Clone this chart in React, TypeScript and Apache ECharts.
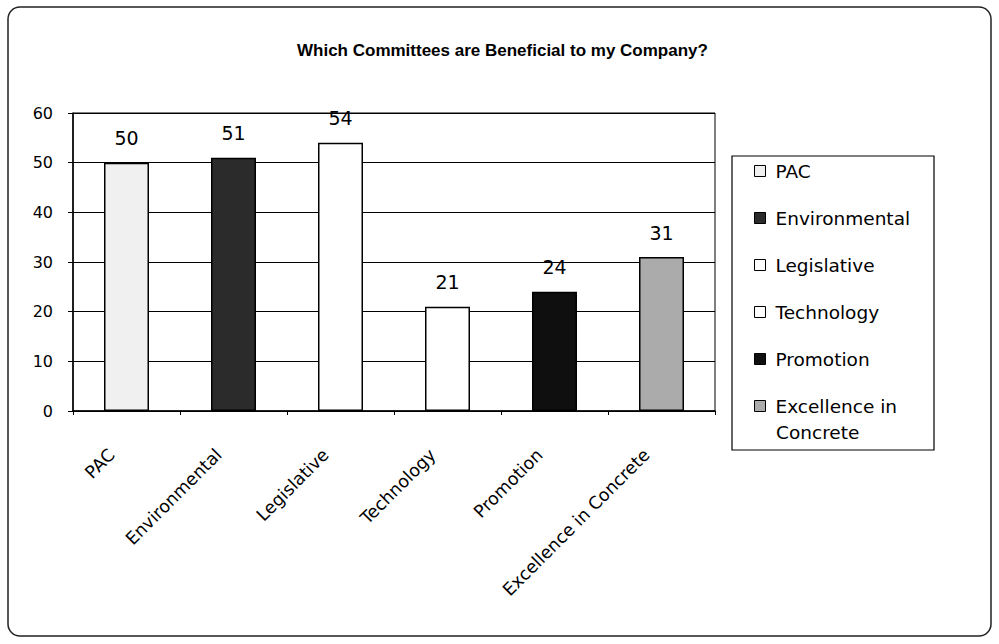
import React, { useEffect, useRef } from "react";
import * as echarts from "echarts";

const categories = ["PAC", "Environmental", "Legislative", "Technology", "Promotion", "Excellence in Concrete"];
const values = [50, 51, 54, 21, 24, 31];
const barColors = ["#f0f0f0", "#2b2b2b", "#ffffff", "#ffffff", "#0f0f0f", "#ababab"];
const yTicks = [0, 10, 20, 30, 40, 50, 60];

export default function App() {
  const ref = useRef<HTMLDivElement>(null);
  useEffect(() => {
    if (!ref.current) return;
    const chart = echarts.init(ref.current, null, { renderer: "svg" });
    const font = "'DejaVu Sans', 'Liberation Sans', Arial, sans-serif";
    const titleFont = "'Liberation Sans', Arial, sans-serif";
    const series = categories.map((name, i) => ({
      name,
      type: "bar",
      barWidth: 45,
      barGap: "-100%",
      data: categories.map((_, j) => (j === i ? values[i] : "-")),
      itemStyle: { color: barColors[i], borderColor: "#000", borderWidth: 1.5 },
      label: {
        show: true,
        position: "top",
        distance: 15,
        color: "#000",
        fontSize: 19,
        fontFamily: font,
      },
    }));
    chart.setOption({
      animation: false,
      backgroundColor: "#fff",
      title: {
        text: "Which Committees are Beneficial to my Company?",
        left: 292,
        top: 37,
        textStyle: { fontSize: 17, fontWeight: "bold", color: "#000", fontFamily: titleFont },
      },
      grid: {
        left: 73,
        right: 284,
        top: 113,
        bottom: 233,
        show: true,
        borderColor: "#000",
        borderWidth: 1,
      },
      legend: {
        orient: "vertical",
        left: 754,
        top: 160,
        padding: 0,
        icon: "rect",
        itemWidth: 11,
        itemHeight: 11,
        itemGap: 25,
        itemStyle: { borderColor: "#000", borderWidth: 1 },
        textStyle: { fontSize: 18.5, color: "#000", fontFamily: font, lineHeight: 22, padding: [0, 0, 0, 5] },
        formatter: (name: string) => (name === "Excellence in Concrete" ? "Excellence in" : name),
        data: categories,
      },
      xAxis: {
        type: "category",
        data: categories,
        axisLine: { lineStyle: { color: "#000", width: 1.5 } },
        axisTick: { show: true, length: 4, lineStyle: { color: "#000" } },
        axisLabel: {
          rotate: 45,
          fontSize: 17.5,
          color: "#000",
          fontFamily: font,
          margin: 26,
          padding: [0, 21, 0, 0],
          interval: 0,
        },
      },
      yAxis: {
        type: "value",
        min: yTicks[0],
        max: yTicks[yTicks.length - 1],
        interval: 10,
        axisLine: { show: true, lineStyle: { color: "#000", width: 1.5 } },
        axisTick: { show: true, length: 5, lineStyle: { color: "#000" } },
        axisLabel: { fontSize: 16, color: "#000", fontFamily: font, margin: 20 },
        splitLine: { lineStyle: { color: "#000", width: 1 } },
      },
      graphic: [
        {
          type: "rect",
          shape: { x: 8, y: 7, width: 983, height: 629, r: 12 },
          style: { fill: "none", stroke: "#222", lineWidth: 1.5 },
          silent: true,
        },
        {
          type: "rect",
          shape: { x: 732, y: 156, width: 202, height: 294 },
          style: { fill: "none", stroke: "#000", lineWidth: 1.2 },
          silent: true,
        },
        {
          type: "text",
          x: 776,
          y: 432,
          style: {
            text: "Concrete",
            fontSize: 18.5,
            fontFamily: font,
            fill: "#000",
            verticalAlign: "middle",
          },
          silent: true,
        },
      ],
      series,
    });
    return () => chart.dispose();
  }, []);
  return (
    <div
      ref={ref}
      style={{ position: "fixed", left: 0, top: 0, width: 999, height: 644 }}
    />
  );
}
